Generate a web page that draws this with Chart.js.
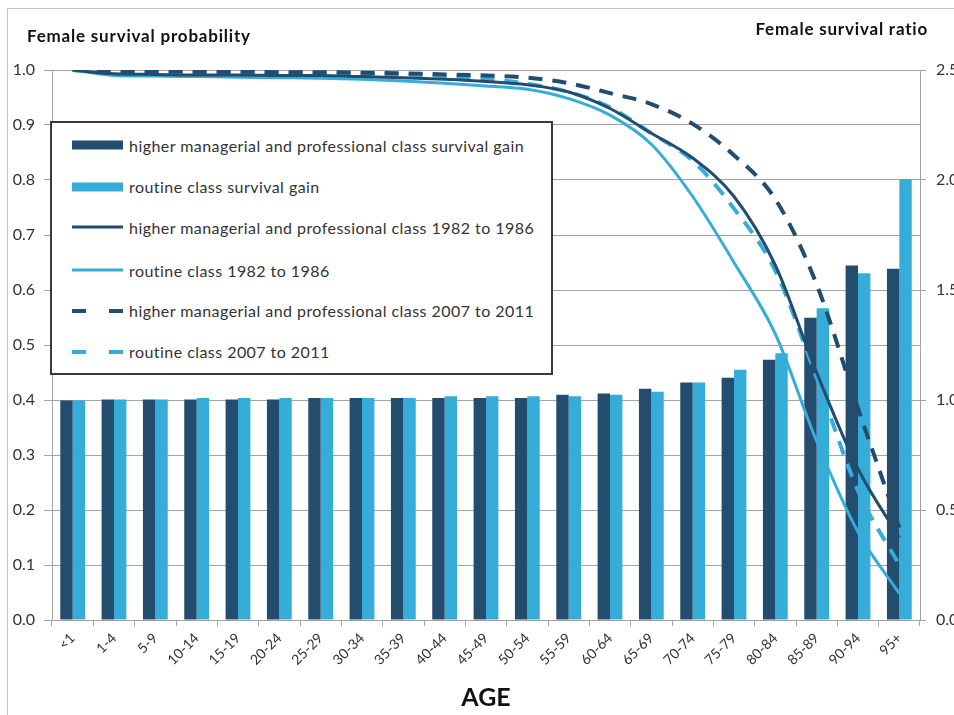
<!DOCTYPE html>
<html><head><meta charset="utf-8">
<script src="https://cdn.jsdelivr.net/npm/chart.js@4/dist/chart.umd.min.js"></script>
<style>
html,body{margin:0;padding:0;background:#fff;}
body{width:954px;height:715px;position:relative;overflow:hidden;font-family:Lato,'Liberation Sans',sans-serif;}
#frame{position:absolute;left:7px;top:8px;width:1000px;height:800px;border-left:1px solid #c4c4c4;border-top:1px solid #c4c4c4;}
#c{position:absolute;left:0;top:0;}
.t{position:absolute;font-weight:bold;font-size:17px;letter-spacing:0.8px;color:#111;white-space:nowrap;line-height:20px;}
#legend{position:absolute;left:50px;top:121px;width:503px;height:254px;background:#fff;border:2px solid #3a3a3a;box-sizing:border-box;}
.li{position:absolute;left:20px;height:20px;display:flex;align-items:center;font-size:16px;letter-spacing:0.45px;color:#333;white-space:nowrap;}
.li svg{margin-right:6px;flex:none;}
</style>
</head><body>
<div id="frame"></div>
<canvas id="c" width="954" height="715"></canvas>
<div class="t" style="left:27px;top:26px;">Female survival probability</div>
<div class="t" style="right:26px;top:19px;">Female survival ratio</div>
<div id="legend"></div>
<script>
const ages = ['<1','1-4','5-9','10-14','15-19','20-24','25-29','30-34','35-39','40-44','45-49','50-54','55-59','60-64','65-69','70-74','75-79','80-84','85-89','90-94','95+'];
// survival ratio (right axis) bars
const higherGain   = [0.998,1.002,1.002,1.002,1.002,1.002,1.009,1.009,1.009,1.009,1.009,1.009,1.024,1.030,1.051,1.080,1.101,1.183,1.374,1.611,1.597];
const routineGain  = [0.998,1.002,1.002,1.009,1.009,1.009,1.009,1.009,1.009,1.017,1.017,1.017,1.017,1.024,1.038,1.080,1.138,1.212,1.417,1.576,2.005];
// survival probability (left axis) lines
const higher1982  = [1.000,0.993,0.992,0.991,0.991,0.990,0.990,0.988,0.986,0.983,0.979,0.973,0.960,0.930,0.885,0.840,0.770,0.645,0.450,0.275,0.150];
const routine1982 = [1.000,0.990,0.989,0.988,0.987,0.986,0.985,0.983,0.980,0.976,0.971,0.965,0.948,0.918,0.865,0.770,0.650,0.520,0.325,0.160,0.048];
const higher2007  = [1.000,0.998,0.998,0.997,0.997,0.996,0.996,0.995,0.994,0.992,0.990,0.986,0.976,0.958,0.938,0.902,0.845,0.765,0.610,0.385,0.168];
const routine2007 = [1.000,0.996,0.996,0.995,0.995,0.995,0.994,0.993,0.992,0.989,0.984,0.975,0.960,0.932,0.885,0.835,0.748,0.635,0.440,0.235,0.100];
const names = [
  'higher managerial and professional class survival gain',
  'routine class survival gain',
  'higher managerial and professional class 1982 to 1986',
  'routine class 1982 to 1986',
  'higher managerial and professional class 2007 to 2011',
  'routine class 2007 to 2011'
];
const DARK = '#234c6e', LIGHT = '#36acd9';
const GRID = '#a3a3a3';

const lineBase = {type:'line', yAxisID:'y', pointRadius:0, cubicInterpolationMode:'monotone', fill:false, order:1};
const chart = new Chart(document.getElementById('c'), {
  type:'bar',
  data:{labels:ages, datasets:[
    {type:'bar', label:names[0], data:higherGain, yAxisID:'y2', backgroundColor:DARK, order:3},
    {type:'bar', label:names[1], data:routineGain, yAxisID:'y2', backgroundColor:LIGHT, order:3},
    Object.assign({label:names[2], data:higher1982, borderColor:DARK, borderWidth:3}, lineBase),
    Object.assign({label:names[3], data:routine1982, borderColor:LIGHT, borderWidth:3}, lineBase),
    Object.assign({label:names[4], data:higher2007, borderColor:DARK, borderWidth:4, borderDash:[14,10]}, lineBase),
    Object.assign({label:names[5], data:routine2007, borderColor:LIGHT, borderWidth:4, borderDash:[14,10]}, lineBase)
  ]},
  options:{
    responsive:false, animation:false,
    layout:{padding:{top:70,left:0,right:0,bottom:0}},
    plugins:{legend:{display:false}, tooltip:{enabled:false}},
    datasets:{bar:{categoryPercentage:0.6, barPercentage:1.0}},
    scales:{
      x:{
        offset:true,
        grid:{offset:true, drawOnChartArea:false, drawTicks:true, tickLength:6, color:GRID},
        border:{color:GRID, width:1},
        ticks:{minRotation:45, maxRotation:45, autoSkip:false, padding:4, color:'#333', font:{family:'Lato', size:14}},
        title:{display:true, text:'AGE', color:'#111', font:{family:'Lato', size:25, weight:'bold'}, padding:{top:0,bottom:2}},
        afterFit:s=>{s.height = 95;}
      },
      y:{
        position:'left', min:0, max:1,
        grid:{color:GRID, tickLength:8, drawTicks:true},
        border:{color:GRID, width:1},
        ticks:{stepSize:0.1, padding:9, color:'#333', font:{family:'Lato', size:16}, callback:v=>Number(v).toFixed(1)},
        afterFit:s=>{s.width = 52;}
      },
      y2:{
        position:'right', min:0, max:2.5,
        grid:{drawOnChartArea:false, drawTicks:true, tickLength:6, color:GRID},
        border:{color:GRID, width:1},
        ticks:{stepSize:0.5, padding:10, color:'#333', font:{family:'Lato', size:16}, callback:v=>Number(v).toFixed(1)},
        afterFit:s=>{s.width = 34;}
      }
    }
  }
});

// HTML legend
const lg = document.getElementById('legend');
const rowsY = [24, 65.7, 106.3, 149, 189.7, 230.7];
const sw = [
  `<svg width="51" height="10"><rect x="0" y="0.5" width="51" height="9" fill="${DARK}"/></svg>`,
  `<svg width="51" height="10"><rect x="0" y="0.5" width="51" height="9" fill="${LIGHT}"/></svg>`,
  `<svg width="51" height="10"><line x1="0" y1="5" x2="51" y2="5" stroke="${DARK}" stroke-width="3"/></svg>`,
  `<svg width="51" height="10"><line x1="0" y1="5" x2="51" y2="5" stroke="${LIGHT}" stroke-width="3"/></svg>`,
  `<svg width="51" height="10"><line x1="0" y1="5" x2="51" y2="5" stroke="${DARK}" stroke-width="4" stroke-dasharray="14 23"/><line x1="37" y1="5" x2="51" y2="5" stroke="${DARK}" stroke-width="4"/></svg>`,
  `<svg width="51" height="10"><line x1="0" y1="5" x2="51" y2="5" stroke="${LIGHT}" stroke-width="4" stroke-dasharray="14 23"/><line x1="37" y1="5" x2="51" y2="5" stroke="${LIGHT}" stroke-width="4"/></svg>`
];
names.forEach((n,i)=>{
  const d = document.createElement('div');
  d.className = 'li';
  d.style.top = (rowsY[i]-10-2)+'px';
  d.innerHTML = sw[i] + '<span>' + n + '</span>';
  lg.appendChild(d);
});
</script>
</body></html>
